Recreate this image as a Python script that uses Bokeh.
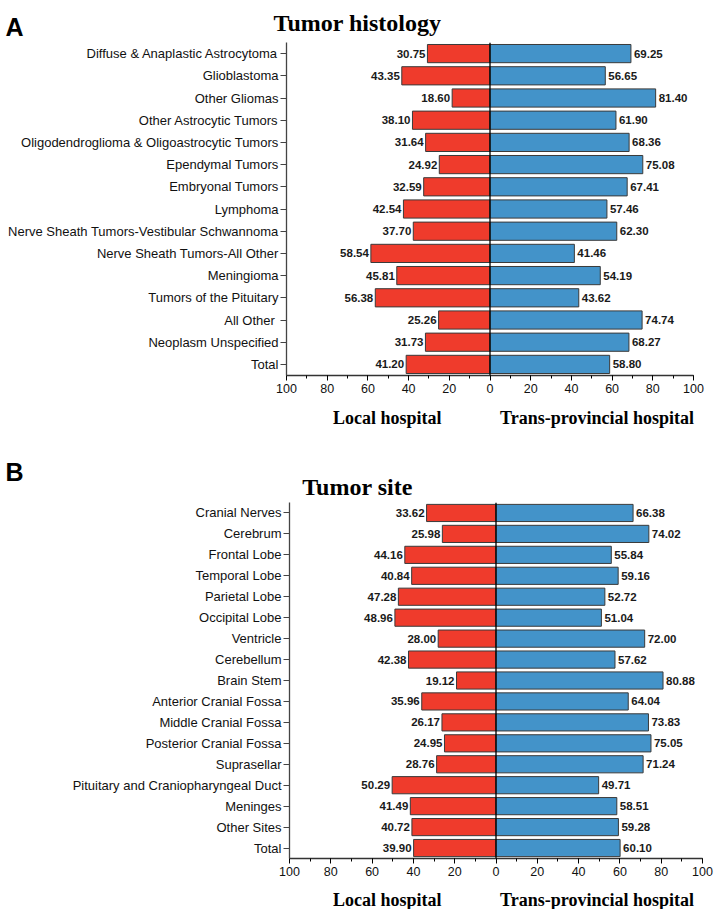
from bokeh.plotting import figure
from bokeh.models import (Range1d, FixedTicker, SingleIntervalTicker, Span,
                          ColumnDataSource)
from bokeh.layouts import column
from bokeh.embed import file_html
from bokeh.resources import INLINE
from bokeh.core.properties import value

# ---------------- data ----------------
hist_categories = [
    "Diffuse & Anaplastic Astrocytoma", "Glioblastoma", "Other Gliomas",
    "Other Astrocytic Tumors", "Oligodendroglioma & Oligoastrocytic Tumors",
    "Ependymal Tumors", "Embryonal Tumors", "Lymphoma",
    "Nerve Sheath Tumors-Vestibular Schwannoma", "Nerve Sheath Tumors-All Other",
    "Meningioma", "Tumors of the Pituitary", "All Other ", "Neoplasm Unspecified",
    "Total",
]
hist_local = [30.75, 43.35, 18.60, 38.10, 31.64, 24.92, 32.59, 42.54, 37.70,
              58.54, 45.81, 56.38, 25.26, 31.73, 41.20]
hist_trans = [69.25, 56.65, 81.40, 61.90, 68.36, 75.08, 67.41, 57.46, 62.30,
              41.46, 54.19, 43.62, 74.74, 68.27, 58.80]

site_categories = [
    "Cranial Nerves", "Cerebrum", "Frontal Lobe", "Temporal Lobe", "Parietal Lobe",
    "Occipital Lobe", "Ventricle", "Cerebellum", "Brain Stem",
    "Anterior Cranial Fossa", "Middle Cranial Fossa", "Posterior Cranial Fossa",
    "Suprasellar", "Pituitary and Craniopharyngeal Duct", "Meninges",
    "Other Sites", "Total",
]
site_local = [33.62, 25.98, 44.16, 40.84, 47.28, 48.96, 28.00, 42.38, 19.12,
              35.96, 26.17, 24.95, 28.76, 50.29, 41.49, 40.72, 39.90]
site_trans = [66.38, 74.02, 55.84, 59.16, 52.72, 51.04, 72.00, 57.62, 80.88,
              64.04, 73.83, 75.05, 71.24, 49.71, 58.51, 59.28, 60.10]

x_ticks = [-100, -80, -60, -40, -20, 0, 20, 40, 60, 80, 100]
x_tick_labels = ["100", "80", "60", "40", "20", "0", "20", "40", "60", "80", "100"]

panel_letters = ["A", "B"]
panel_titles = ["Tumor histology", "Tumor site"]
side_labels = ["Local hospital", "Trans-provincial hospital"]

RED = "#EF3B2C"
BLUE = "#4393C9"
EDGE = "#3a3a3a"
SANS = "Liberation Sans"
SERIF = "Liberation Serif"
W = 719


def text_strip(height):
    """A figure whose frame is the whole strip, in pixel-like coordinates."""
    f = figure(width=W, height=height, output_backend="svg", toolbar_location=None,
               x_range=Range1d(0, W), y_range=Range1d(height, 0),
               x_axis_location=None, y_axis_location=None,
               min_border=0, min_border_left=0, min_border_right=0,
               min_border_top=0, min_border_bottom=0, frame_align=False,
               background_fill_color="white", border_fill_color="white")
    f.outline_line_color = None
    f.xgrid.visible = False
    f.ygrid.visible = False
    return f


def header(height, letter, letter_y, title, title_y):
    f = text_strip(height)
    f.text(x=[5], y=[letter_y], text=[letter], text_align="left",
           text_baseline="alphabetic", text_font=value(SANS),
           text_font_style="bold", text_font_size="25px", text_color="black")
    f.text(x=[357], y=[title_y], text=[title], text_align="center",
           text_baseline="alphabetic", text_font=value(SERIF),
           text_font_style="bold", text_font_size="24px", text_color="black")
    return f


def footer(height, base_y):
    f = text_strip(height)
    f.text(x=[386.7, 596.5], y=[base_y, base_y], text=side_labels,
           text_align="center", text_baseline="alphabetic", text_font=value(SERIF),
           text_font_style="bold", text_font_size="18px", text_color="black")
    return f


def panel(cats, local, trans, height, frame_h, left, right):
    n = len(cats)
    idx = list(range(n))
    p = figure(width=W, height=height, output_backend="svg", toolbar_location=None,
               x_range=Range1d(-100, 100), y_range=Range1d(n - 0.5, -0.5),
               min_border_left=left, min_border_right=right,
               min_border_top=0, min_border_bottom=height - frame_h,
               frame_align=False,
               background_fill_color="white", border_fill_color="white")
    p.outline_line_color = None
    p.xgrid.visible = False
    p.ygrid.visible = False

    src = ColumnDataSource(dict(
        y=idx, left=[-v for v in local], right=trans,
        ltxt=["%.2f" % v for v in local], rtxt=["%.2f" % v for v in trans]))

    p.hbar(y="y", left="left", right=0, height=0.82, source=src,
           fill_color=RED, line_color=EDGE, line_width=1)
    p.hbar(y="y", left=0, right="right", height=0.82, source=src,
           fill_color=BLUE, line_color=EDGE, line_width=1)

    p.text(x="left", y="y", text="ltxt", source=src, x_offset=-2,
           text_align="right", text_baseline="middle",
           text_font=value(SANS), text_font_style="bold",
           text_font_size="11.5px", text_color="#1a1a1a")
    p.text(x="right", y="y", text="rtxt", source=src, x_offset=3,
           text_align="left", text_baseline="middle",
           text_font=value(SANS), text_font_style="bold",
           text_font_size="11.5px", text_color="#1a1a1a")

    p.add_layout(Span(location=0, dimension="height", line_color="black",
                      line_width=1.3))

    yax = p.yaxis[0]
    yax.ticker = FixedTicker(ticks=idx)
    yax.major_label_overrides = {i: c for i, c in zip(idx, cats)}
    yax.major_label_text_font = SANS
    yax.major_label_text_font_size = "13px"
    yax.major_label_text_color = "#111111"
    yax.major_tick_out = 6
    yax.major_tick_in = 0
    yax.minor_tick_out = 0
    yax.major_label_standoff = 2
    yax.axis_line_color = "#444444"
    yax.axis_line_width = 1.3
    yax.major_tick_line_color = "#444444"

    xax = p.xaxis[0]
    xax.ticker = SingleIntervalTicker(interval=20, num_minor_ticks=2)
    xax.major_label_overrides = {t: l for t, l in zip(x_ticks, x_tick_labels)}
    xax.major_label_text_font = SANS
    xax.major_label_text_font_size = "12.5px"
    xax.major_label_text_color = "#111111"
    xax.major_tick_out = 5
    xax.major_tick_in = 0
    xax.minor_tick_out = 3
    xax.minor_tick_in = 0
    xax.major_label_standoff = 3
    xax.axis_line_color = "#333333"
    xax.axis_line_width = 1.3
    return p


hA = header(42, panel_letters[0], 26, panel_titles[0], 22)
pA = panel(hist_categories, hist_local, hist_trans, height=358, frame_h=333,
           left=286, right=26)
fA = footer(40, 17)
hB = header(62, panel_letters[1], 31, panel_titles[1], 46)
pB = panel(site_categories, site_local, site_trans, height=381, frame_h=356,
           left=289, right=17)
fB = footer(26, 16)

layout = column(hA, pA, fA, hB, pB, fB, spacing=0)
open("out.html", "w").write(file_html(layout, INLINE))
